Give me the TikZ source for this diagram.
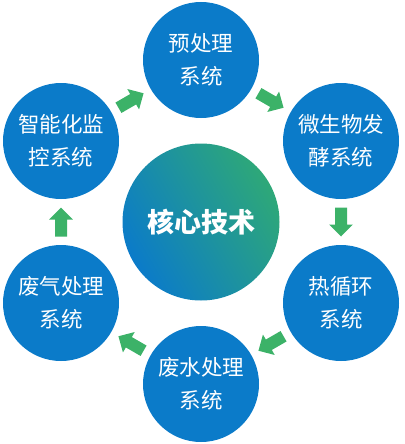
\documentclass[tikz,border=0pt]{standalone}
\usepackage{fontspec}
\usetikzlibrary{calc}
\newfontfamily\cjk{Noto Sans CJK SC}
\definecolor{cblue}{RGB}{11,123,201}
\definecolor{cgreen}{RGB}{46,168,120}
\definecolor{agreen}{RGB}{60,178,104}
\begin{document}
\begin{tikzpicture}[x=1pt,y=-1pt,
  outer/.style={circle,fill=cblue,minimum size=116pt,inner sep=0pt,text=white,align=center,
    font=\cjk\fontsize{21.5}{33.5}\selectfont},
  blockarrow/.pic={\fill[agreen] (-14.5,-6) -- (2.5,-6) -- (2.5,-11.8) -- (14.5,0) -- (2.5,11.8) -- (2.5,6) -- (-14.5,6) -- cycle;}
]
\useasboundingbox (0,0) rectangle (404,444);
\coordinate (c) at (201,222);
\shade[left color=cblue,right color=cgreen,shading angle=120] (c) circle[radius=78.5];
\node[text=white,font=\cjk\bfseries\fontsize{27}{30}\selectfont] (core) at (c) {核心技术};
\node[outer] (n1) at (201,60) {预处理\\系统};
\node[outer] (n2) at (341,141) {微生物发\\酵系统};
\node[outer] (n3) at (341,303) {热循环\\系统};
\node[outer] (n4) at (201,384) {废水处理\\系统};
\node[outer] (n5) at (61,303) {废气处理\\系统};
\node[outer] (n6) at (61,141) {智能化监\\控系统};
\pic[rotate=-30] at ($(n1)!0.5!(n2)$) {blockarrow};
\pic[rotate=-90] at ($(n2)!0.5!(n3)$) {blockarrow};
\pic[rotate=-150] at ($(n3)!0.5!(n4)$) {blockarrow};
\pic[rotate=150] at ($(n4)!0.5!(n5)$) {blockarrow};
\pic[rotate=90] at ($(n5)!0.5!(n6)$) {blockarrow};
\pic[rotate=30] at ($(n6)!0.5!(n1)$) {blockarrow};
\end{tikzpicture}
\end{document}
